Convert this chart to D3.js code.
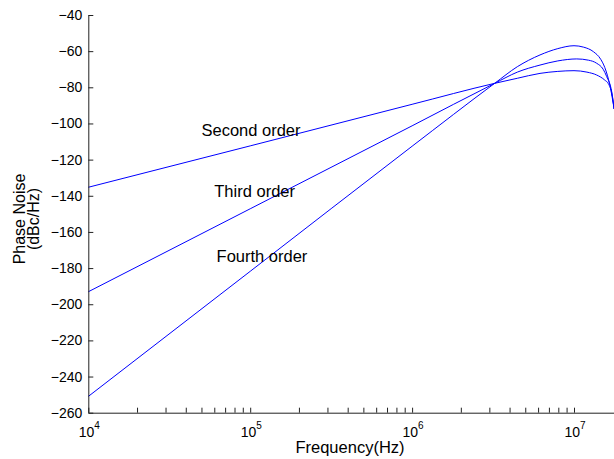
<!DOCTYPE html>
<html>
<head>
<meta charset="utf-8">
<script src="https://cdn.jsdelivr.net/npm/d3@7"></script>
<style>
  body { margin: 0; background: #fff; }
  text { font-family: "Liberation Sans", Arial, sans-serif; fill: #000; }
</style>
</head>
<body>
<div id="chart"></div>
<script>
// values: [log10(frequency), phase noise dBc/Hz]
const secondOrder = [[4, -135.3], [5, -112.4], [6, -89.4], [6.51, -77.8], [6.65, -75.0], [6.79, -72.3],
  [6.9, -71.2], [7.0, -70.8], [7.08, -71.6], [7.14, -73.2], [7.19, -76.0], [7.212, -78.0], [7.235, -84.0], [7.248, -92.0]];
const thirdOrder = [[4, -193.1], [5, -147.2], [6, -101.3], [6.51, -77.8], [6.65, -71.6], [6.79, -67.7],
  [6.9, -65.4], [7.017, -64.3], [7.09, -65.0], [7.14, -66.7], [7.18, -70.0], [7.202, -74.1], [7.233, -82.5], [7.248, -92.0]];
const fourthOrder = [[4, -251.0], [5, -181.8], [6, -112.6], [6.51, -77.8], [6.65, -68.6], [6.79, -62.1],
  [6.9, -58.6], [7.0, -57.0], [7.06, -57.8], [7.12, -60.3], [7.165, -64.5], [7.19, -69.0], [7.222, -79.0], [7.248, -92.0]];
const curveLabels = [
  { text: "Second order", f: 5e4, db: -107 },
  { text: "Third order", f: 6e4, db: -140.5 },
  { text: "Fourth order", f: 6.2e4, db: -176.5 }
];
const yTicks = d3.range(-260, -39, 20);
const decades = [4, 5, 6, 7];

const width = 614, height = 459;
const margin = { left: 88.3, top: 15, bottom: 46.3 };

const svg = d3.select("#chart").append("svg")
  .attr("width", width)
  .attr("height", height);

const x = d3.scaleLog()
  .domain([1e4, Math.pow(10, 7.25)])
  .range([margin.left, margin.left + 161.9 * 3.25]);

const y = d3.scaleLinear()
  .domain([-260, -40])
  .range([height - margin.bottom, margin.top]);

// blue curves
const line = d3.line()
  .x(d => x(Math.pow(10, d[0])))
  .y(d => y(d[1]))
  .curve(d3.curveMonotoneX);

svg.append("g")
  .selectAll("path")
  .data([secondOrder, thirdOrder, fourthOrder])
  .join("path")
  .attr("d", line)
  .attr("fill", "none")
  .attr("stroke", "#0000ff")
  .attr("stroke-width", 1);

// y axis, ticks point inward
const yAxis = svg.append("g")
  .attr("transform", `translate(${margin.left},0)`)
  .call(d3.axisLeft(y).tickValues(yTicks).tickSize(-5).tickPadding(6).tickSizeOuter(0));
yAxis.selectAll("text").attr("font-size", 14).attr("font-family", "Liberation Sans, Arial, sans-serif");

// x axis with minor ticks
const minor = [];
for (let e = 4; e <= 7; e++) {
  for (let m = 2; m <= 9; m++) {
    if (m * Math.pow(10, e) <= x.domain()[1]) minor.push(m * Math.pow(10, e));
  }
}
svg.append("g")
  .attr("transform", `translate(0,${y(-260)})`)
  .call(d3.axisBottom(x).tickValues(minor.concat(decades.map(e => Math.pow(10, e))))
    .tickSize(-5).tickFormat("").tickSizeOuter(0));

svg.selectAll(".domain, .tick line").attr("stroke", "#222");

const xLabels = svg.append("g");
decades.forEach(e => {
  const t = xLabels.append("text")
    .attr("x", x(Math.pow(10, e)) + 1)
    .attr("y", y(-260) + 24)
    .attr("text-anchor", "middle")
    .attr("font-size", 14);
  t.append("tspan").text("10");
  t.append("tspan").attr("font-size", 10).attr("dy", -8).text(e);
});

// axis titles
svg.append("text")
  .attr("x", 350)
  .attr("y", 453)
  .attr("text-anchor", "middle")
  .attr("font-size", 16.5)
  .text("Frequency(Hz)");

const yTitle = svg.append("text")
  .attr("transform", "translate(25,219) rotate(-90)")
  .attr("text-anchor", "middle")
  .attr("font-size", 16);
yTitle.append("tspan").attr("x", 0).attr("dy", 0).text("Phase Noise");
yTitle.append("tspan").attr("x", 0).attr("dy", 14).text("(dBc/Hz)");

// curve annotations
svg.append("g")
  .selectAll("text")
  .data(curveLabels)
  .join("text")
  .attr("x", d => x(d.f))
  .attr("y", d => y(d.db))
  .attr("font-size", 16.5)
  .text(d => d.text);
</script>
</body>
</html>
